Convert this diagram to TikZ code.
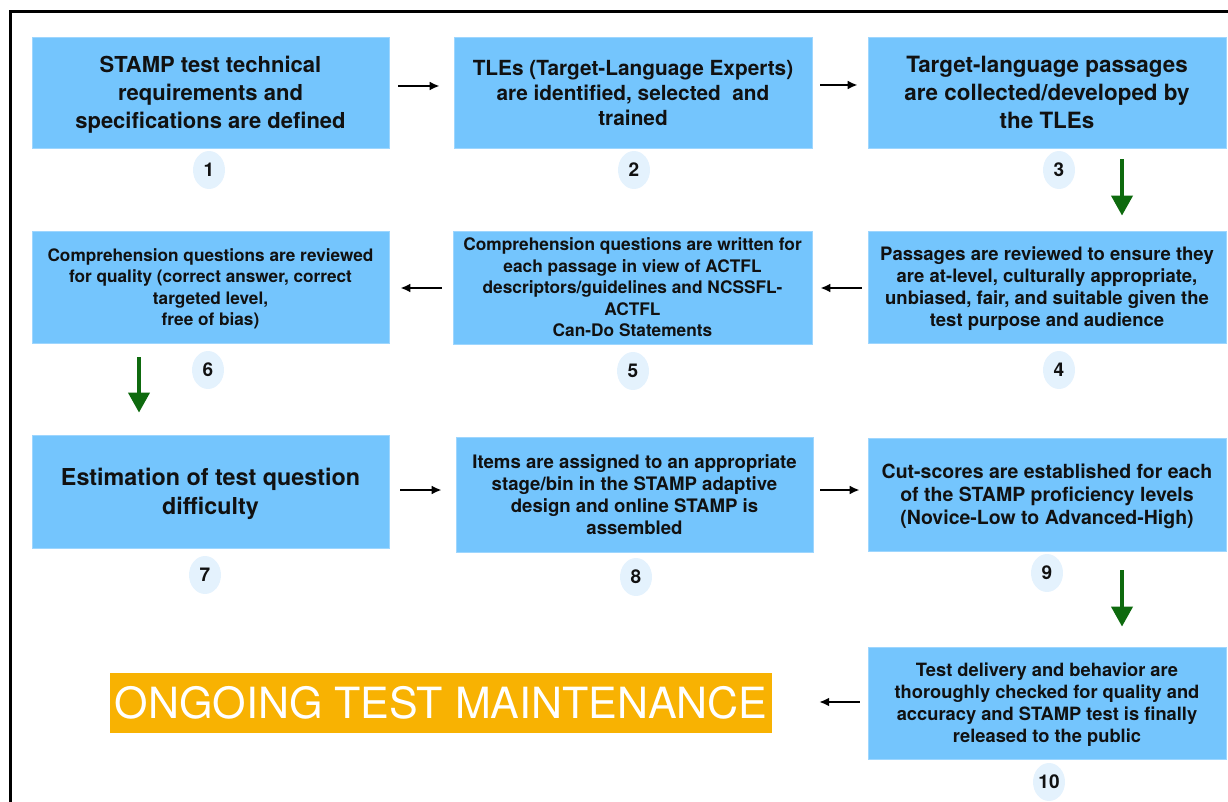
\documentclass[tikz,border=0pt]{standalone}
\usepackage{xcolor}
\usepackage{fontspec}
\setmainfont{TeX Gyre Heros}
\usepackage{tikz}
\usetikzlibrary{arrows.meta}
\usetikzlibrary{shapes.geometric}

\definecolor{boxblue}{RGB}{116,197,253}
\definecolor{dotblue}{RGB}{228,242,253}
\definecolor{flowgreen}{RGB}{14,106,14}
\definecolor{bannerorange}{RGB}{248,178,2}
\definecolor{inkblack}{RGB}{17,17,17}

\begin{document}
\begin{tikzpicture}[x=1pt,y=-1pt,
    stepbox/.style={fill=boxblue, draw=boxblue!70!white, line width=0.8,
        align=center, text=inkblack, inner sep=0pt, text depth=0pt},
    numdot/.style={ellipse, fill=dotblue, minimum width=32, minimum height=38,
        inner sep=0pt, text=inkblack, font=\bfseries\fontsize{19}{19}\selectfont},
    flow/.style={line width=2.2, -{Latex[length=10,width=9]}},
    down/.style={line width=4, flowgreen, -{Triangle[length=20,width=21]}},
    banner/.style={fill=bannerorange, text=white, inner sep=0pt,
        font=\fontsize{43}{43}\selectfont}]
            \useasboundingbox (0,0) rectangle (1228,802);
            {\bfseries

            % Drawing frame
            \draw [line width=3] (10.5,830) -- (10.5,11.5) -- (1250,11.5);%

            % Marking step 1 by box
            \node [stepbox, minimum width=357, minimum height=111,
                font=\fontsize{22}{28}\selectfont] (b1) at (210.5,92.5)
                {STAMP test technical\\requirements and\\specifications are defined};%
            \node [numdot] (n1) at (209,170) {1};%

            % Marking step 2 by box
            \node [stepbox, minimum width=358, minimum height=111,
                font=\fontsize{20.8}{25}\selectfont] (b2) at (633,92.5)
                {TLEs (Target-Language Experts)\\are identified, selected\ \ and\\trained};%
            \node [numdot] (n2) at (634,170) {2};%

            % Marking step 3 by box
            \node [stepbox, minimum width=358, minimum height=111,
                font=\fontsize{22.4}{28}\selectfont] (b3) at (1047,92.5)
                {Target-language passages\\are collected/developed by\\the TLEs};%
            \node [numdot] (n3) at (1059,170) {3};%

            % Marking step 4 by box
            \node [stepbox, minimum width=358, minimum height=112,
                font=\fontsize{18.5}{22}\selectfont] (b4) at (1047,287)
                {Passages are reviewed to ensure they\\are at-level, culturally appropriate,\\unbiased, fair, and suitable given the\\test purpose and audience};%
            \node [numdot] (n4) at (1059,370) {4};%

            % Marking step 5 by box
            \node [stepbox, minimum width=359, minimum height=113,
                font=\fontsize{17.3}{21.5}\selectfont] (b5) at (632.5,287.5)
                {Comprehension questions are written for\\each passage in view of ACTFL\\descriptors/guidelines and NCSSFL-\\ACTFL\\Can-Do Statements};%
            \node [numdot] (n5) at (633,371) {5};%

            % Marking step 6 by box
            \node [stepbox, minimum width=357, minimum height=112,
                font=\fontsize{17.2}{21.5}\selectfont] (b6) at (210.5,287)
                {Comprehension questions are reviewed\\for quality (correct answer, correct\\targeted level,\\free of bias)};%
            \node [numdot] (n6) at (208,370) {6};%

            % Marking step 7 by box
            \node [stepbox, minimum width=357, minimum height=113,
                font=\fontsize{23.3}{29}\selectfont] (b7) at (210.5,491.5)
                {Estimation of test question\\difficulty};%
            \node [numdot] (n7) at (205,575) {7};%

            % Marking step 8 by box
            \node [stepbox, minimum width=357, minimum height=115,
                font=\fontsize{18.6}{22}\selectfont] (b8) at (634.5,494.5)
                {Items are assigned to an appropriate\\stage/bin in the STAMP adaptive\\design and online STAMP is\\assembled};%
            \node [numdot] (n8) at (636,577) {8};%

            % Marking step 9 by box
            \node [stepbox, minimum width=358, minimum height=113,
                font=\fontsize{19.5}{23}\selectfont] (b9) at (1047,494.5)
                {Cut-scores are established for each\\of the STAMP proficiency levels\\(Novice-Low to Advanced-High)};%
            \node [numdot] (n9) at (1047,573) {9};%

            % Marking step 10 by box
            \node [stepbox, minimum width=358, minimum height=112,
                font=\fontsize{18.3}{22}\selectfont] (b10) at (1047,703)
                {Test delivery and behavior are\\thoroughly checked for quality and\\accuracy and STAMP test is finally\\released to the public};%
            \node [numdot] (n10) at (1049,782) {10};%
            }

            % Marking maintenance banner
            \node [banner, minimum width=662, minimum height=60] (ongoing) at (441,703)
                {ONGOING TEST MAINTENANCE};%

            % Drawing arrows along the rows
            \draw [flow, shorten <=9, shorten >=14] ([yshift=6.5]b1.east) -- ([yshift=6.5]b2.west);%
            \draw [flow, shorten <=8, shorten >=10] ([yshift=7.5]b2.east) -- ([yshift=7.5]b3.west);%
            \draw [flow, shorten <=6, shorten >=8] ([yshift=-1]b4.west) -- ([yshift=-1]b4.west -| b5.east);%
            \draw [flow, shorten <=11, shorten >=11] ([yshift=-0.5]b5.west) -- ([yshift=-0.5]b5.west -| b6.east);%
            \draw [flow, shorten <=11, shorten >=14] ([yshift=1.5]b7.east) -- ([yshift=1.5]b7.east -| b8.west);%
            \draw [flow, shorten <=7, shorten >=8] ([yshift=4.5]b8.east) -- ([yshift=4.5]b8.east -| b9.west);%
            \draw [flow, shorten <=8, shorten >=47] ([yshift=1]b10.west) -- ([yshift=1]b10.west -| ongoing.east);%

            % Drawing arrows between the rows
            \draw [down, shorten <=11, shorten >=15] ([xshift=75]b3.south) -- ([xshift=75]b4.north);%
            \draw [down, shorten <=14, shorten >=22] ([xshift=-71.5]b6.south) -- ([xshift=-71.5]b7.north);%
            \draw [down, shorten <=19, shorten >=20] ([xshift=75]b9.south) -- ([xshift=75]b10.north);%
        \end{tikzpicture}
\end{document}
